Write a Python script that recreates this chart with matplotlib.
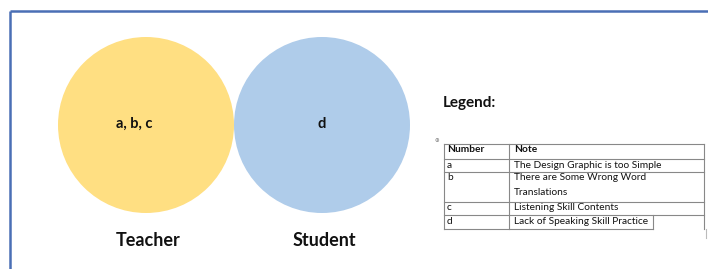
import matplotlib
matplotlib.use("Agg")
import matplotlib.pyplot as plt
from matplotlib.patches import Circle

# data
groups = ["Teacher", "Student"]
group_members = ["a, b, c", "d"]
group_colors = ["#FFDF82", "#AFCCEA"]
legend_numbers = ["Number", "a", "b", "c", "d"]
legend_notes = ["Note", "The Design Graphic is too Simple",
                "There are Some Wrong Word\nTranslations",
                "Listening Skill Contents", "Lack of Speaking Skill Practice"]

plt.rcParams["font.family"] = ["Lato", "DejaVu Sans"]

W, H = 708, 269
fig = plt.figure(figsize=(W / 100, H / 100), dpi=100)
ax = fig.add_axes([0, 0, 1, 1])
ax.set_xlim(0, W)
ax.set_ylim(H, 0)
ax.axis("off")

# page frame (top and left rule)
ax.plot([10, W], [11, 11], color="#4A6FB5", lw=1.8, solid_capstyle="butt")
ax.plot([10, 10], [11, H], color="#4A6FB5", lw=1.8, solid_capstyle="butt")

# circles
centers_x = [146, 322]
cy, r = 125, 88
for cx, label, members, color in zip(centers_x, groups, group_members, group_colors):
    ax.add_patch(Circle((cx, cy), r, facecolor=color, edgecolor="none"))
    ax.text(cx - 12 if len(members) > 1 else cx, cy - 1, members, ha="center",
            va="center", fontsize=10.5, fontweight="bold", color="#111111")
    ax.text(cx + 2, 240, label, ha="center", va="center", fontsize=13,
            fontweight="bold", color="#111111")

# legend title
ax.text(443, 103, "Legend:", ha="left", va="center", fontsize=11,
        fontweight="bold", color="#111111")

# legend table
x0, x1, x2 = 444, 509, 704
row_edges = [144, 159, 172, 202, 215, 229]
lc = "#888888"
for i, y in enumerate(row_edges):
    right = x2 if i < len(row_edges) - 1 else 653
    ax.plot([x0, right], [y, y], color=lc, lw=0.8)
ax.plot([x0, x0], [row_edges[0], row_edges[-1]], color=lc, lw=0.8)
ax.plot([x1, x1], [row_edges[0], row_edges[-1]], color=lc, lw=0.8)
ax.plot([x2, x2], [row_edges[0], row_edges[-1]], color=lc, lw=0.8)
ax.plot([653, 653], [row_edges[-2], row_edges[-1]], color=lc, lw=0.8)
ax.plot([706, 706], [row_edges[-1], 238], color="#BBBBBB", lw=0.8)
# little table handle
ax.text(437, 140, "\u2295", fontsize=4, color="#777777", ha="center", va="center")

for i, (num, note) in enumerate(zip(legend_numbers, legend_notes)):
    weight = "bold" if i == 0 else "normal"
    top = row_edges[i] + 1.5
    ax.text(x0 + 3, top, num, ha="left", va="top", fontsize=7.3,
            fontweight=weight, color="#111111")
    ax.text(x1 + 5, top, note, ha="left", va="top", fontsize=7.3,
            fontweight=weight, color="#111111", linespacing=1.75)

fig.savefig("out.png", dpi=100, facecolor="white")
